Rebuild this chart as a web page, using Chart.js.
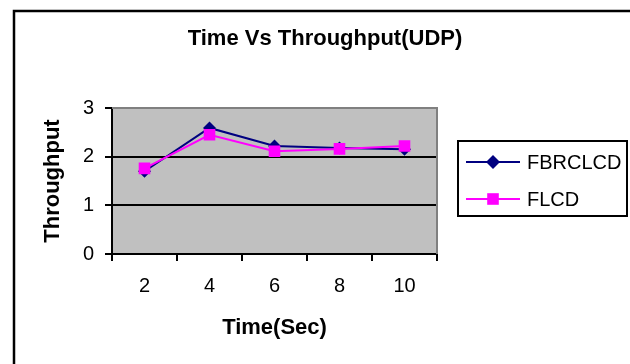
<!DOCTYPE html>
<html lang="en">

<head>
    <meta charset="UTF-8">
    <title>Time Vs Throughput(UDP)</title>
    <script src="https://cdn.jsdelivr.net/npm/chart.js"></script>
    <style>
        body {
            margin: 0;
            background: #ffffff;
        }

        canvas {
            display: block;
        }
    </style>
</head>

<body>
    <canvas id="throughputChart" width="630" height="364"></canvas>

    <script>
        // time in seconds
        const timeLabels = ['2', '4', '6', '8', '10'];
        // throughput per protocol
        const fbrclcdValues = [1.70, 2.59, 2.22, 2.18, 2.15];
        const flcdValues = [1.76, 2.45, 2.11, 2.16, 2.22];
        const yTicks = [0, 1, 2, 3];

        const FONT = 'Liberation Sans, Arial, sans-serif';

        // white page, frame and grey plot background
        const backdrop = {
            id: 'backdrop',
            beforeDraw(chart) {
                const { ctx, chartArea: a } = chart;
                ctx.save();
                ctx.fillStyle = '#ffffff';
                ctx.fillRect(0, 0, chart.width, chart.height);
                ctx.strokeStyle = '#000000';
                ctx.lineWidth = 2.5;
                ctx.strokeRect(14, 11, chart.width + 50, chart.height + 50);
                ctx.fillStyle = '#c0c0c0';
                ctx.fillRect(a.left, a.top, a.right - a.left, a.bottom - a.top);
                ctx.restore();
            },
            beforeDatasetsDraw(chart) {
                // grey edge on top and right of the plot
                const { ctx, chartArea: a } = chart;
                ctx.save();
                ctx.strokeStyle = '#808080';
                ctx.lineWidth = 2;
                ctx.beginPath();
                ctx.moveTo(a.left, a.top);
                ctx.lineTo(a.right, a.top);
                ctx.lineTo(a.right, a.bottom);
                ctx.stroke();
                ctx.restore();
            }
        };

        function drawMarker(ctx, style, x, y, r, color) {
            ctx.fillStyle = color;
            ctx.beginPath();
            if (style === 'rectRot') {
                ctx.moveTo(x, y - r);
                ctx.lineTo(x + r, y);
                ctx.lineTo(x, y + r);
                ctx.lineTo(x - r, y);
                ctx.closePath();
            } else {
                const s = r * Math.SQRT1_2;
                ctx.rect(x - s, y - s, 2 * s, 2 * s);
            }
            ctx.fill();
        }

        // boxed legend with line + marker samples
        const sideLegend = {
            id: 'sideLegend',
            afterDraw(chart) {
                const { ctx, chartArea: a } = chart;
                const left = a.right + 21;
                const top = 141;
                ctx.save();
                ctx.strokeStyle = '#000000';
                ctx.lineWidth = 2;
                ctx.strokeRect(left, top, 169, 75);
                chart.data.datasets.forEach((ds, i) => {
                    const y = top + 21 + i * 37;
                    ctx.strokeStyle = ds.borderColor;
                    ctx.lineWidth = 2;
                    ctx.beginPath();
                    ctx.moveTo(left + 8, y);
                    ctx.lineTo(left + 62, y);
                    ctx.stroke();
                    drawMarker(ctx, ds.pointStyle, left + 35, y, ds.pointStyle === 'rectRot' ? 7 : 8.2, ds.borderColor);
                    ctx.fillStyle = '#000000';
                    ctx.font = '20px ' + FONT;
                    ctx.textAlign = 'left';
                    ctx.textBaseline = 'middle';
                    ctx.fillText(ds.label, left + 69, y + 1);
                });
                ctx.restore();
            }
        };

        const ctx = document.getElementById('throughputChart').getContext('2d');
        new Chart(ctx, {
            type: 'line',
            data: {
                labels: timeLabels,
                datasets: [{
                    label: 'FBRCLCD',
                    data: fbrclcdValues,
                    borderColor: '#000080',
                    backgroundColor: '#000080',
                    borderWidth: 2,
                    pointStyle: 'rectRot',
                    pointRadius: 6.5,
                    pointBorderWidth: 0,
                    order: 1,
                    tension: 0
                }, {
                    label: 'FLCD',
                    data: flcdValues,
                    borderColor: '#ff00ff',
                    backgroundColor: '#ff00ff',
                    borderWidth: 2,
                    pointStyle: 'rect',
                    pointRadius: 8.2,
                    pointBorderWidth: 0,
                    order: 0,
                    tension: 0
                }]
            },
            options: {
                responsive: false,
                animation: false,
                devicePixelRatio: 1,
                layout: { padding: { left: 20, right: 0, top: 0, bottom: 0 } },
                plugins: {
                    legend: { display: false },
                    tooltip: { enabled: false },
                    title: {
                        display: true,
                        text: 'Time Vs Throughput(UDP)',
                        color: '#000000',
                        font: { family: FONT, size: 22, weight: 'bold' },
                        padding: { top: 26, bottom: 55.6 }
                    }
                },
                scales: {
                    x: {
                        type: 'category',
                        offset: true,
                        grid: {
                            offset: true,
                            drawOnChartArea: false,
                            color: '#000000',
                            lineWidth: 2,
                            tickLength: 7
                        },
                        border: { color: '#000000', width: 2 },
                        ticks: {
                            color: '#000000',
                            font: { family: FONT, size: 20 },
                            padding: 13,
                            maxRotation: 0
                        },
                        title: {
                            display: true,
                            text: 'Time(Sec)',
                            color: '#000000',
                            font: { family: FONT, size: 22, weight: 'bold' },
                            padding: { top: 0, bottom: 23 }
                        },
                        afterFit: s => { s.height = 110; }
                    },
                    y: {
                        min: yTicks[0],
                        max: yTicks[yTicks.length - 1],
                        afterBuildTicks: s => { s.ticks = yTicks.map(v => ({ value: v })); },
                        grid: {
                            color: c => (c.tick && c.tick.value === yTicks[yTicks.length - 1]) ? 'rgba(0,0,0,0)' : '#000000',
                            tickColor: '#000000',
                            lineWidth: 2,
                            tickLength: 7
                        },
                        border: { color: '#000000', width: 2 },
                        ticks: {
                            color: '#000000',
                            font: { family: FONT, size: 20 },
                            padding: 11
                        },
                        title: {
                            display: true,
                            text: 'Throughput',
                            color: '#000000',
                            font: { family: FONT, size: 22, weight: 'bold' },
                            padding: { top: 20, bottom: 0 }
                        },
                        afterFit: s => { s.width = 92; }
                    },
                    // reserves the space on the right where the legend sits
                    side: {
                        type: 'linear',
                        position: 'right',
                        grid: { display: false },
                        border: { display: false },
                        ticks: { display: false },
                        afterFit: s => { s.width = 193; }
                    }
                }
            },
            plugins: [backdrop, sideLegend]
        });
    </script>
</body>

</html>
